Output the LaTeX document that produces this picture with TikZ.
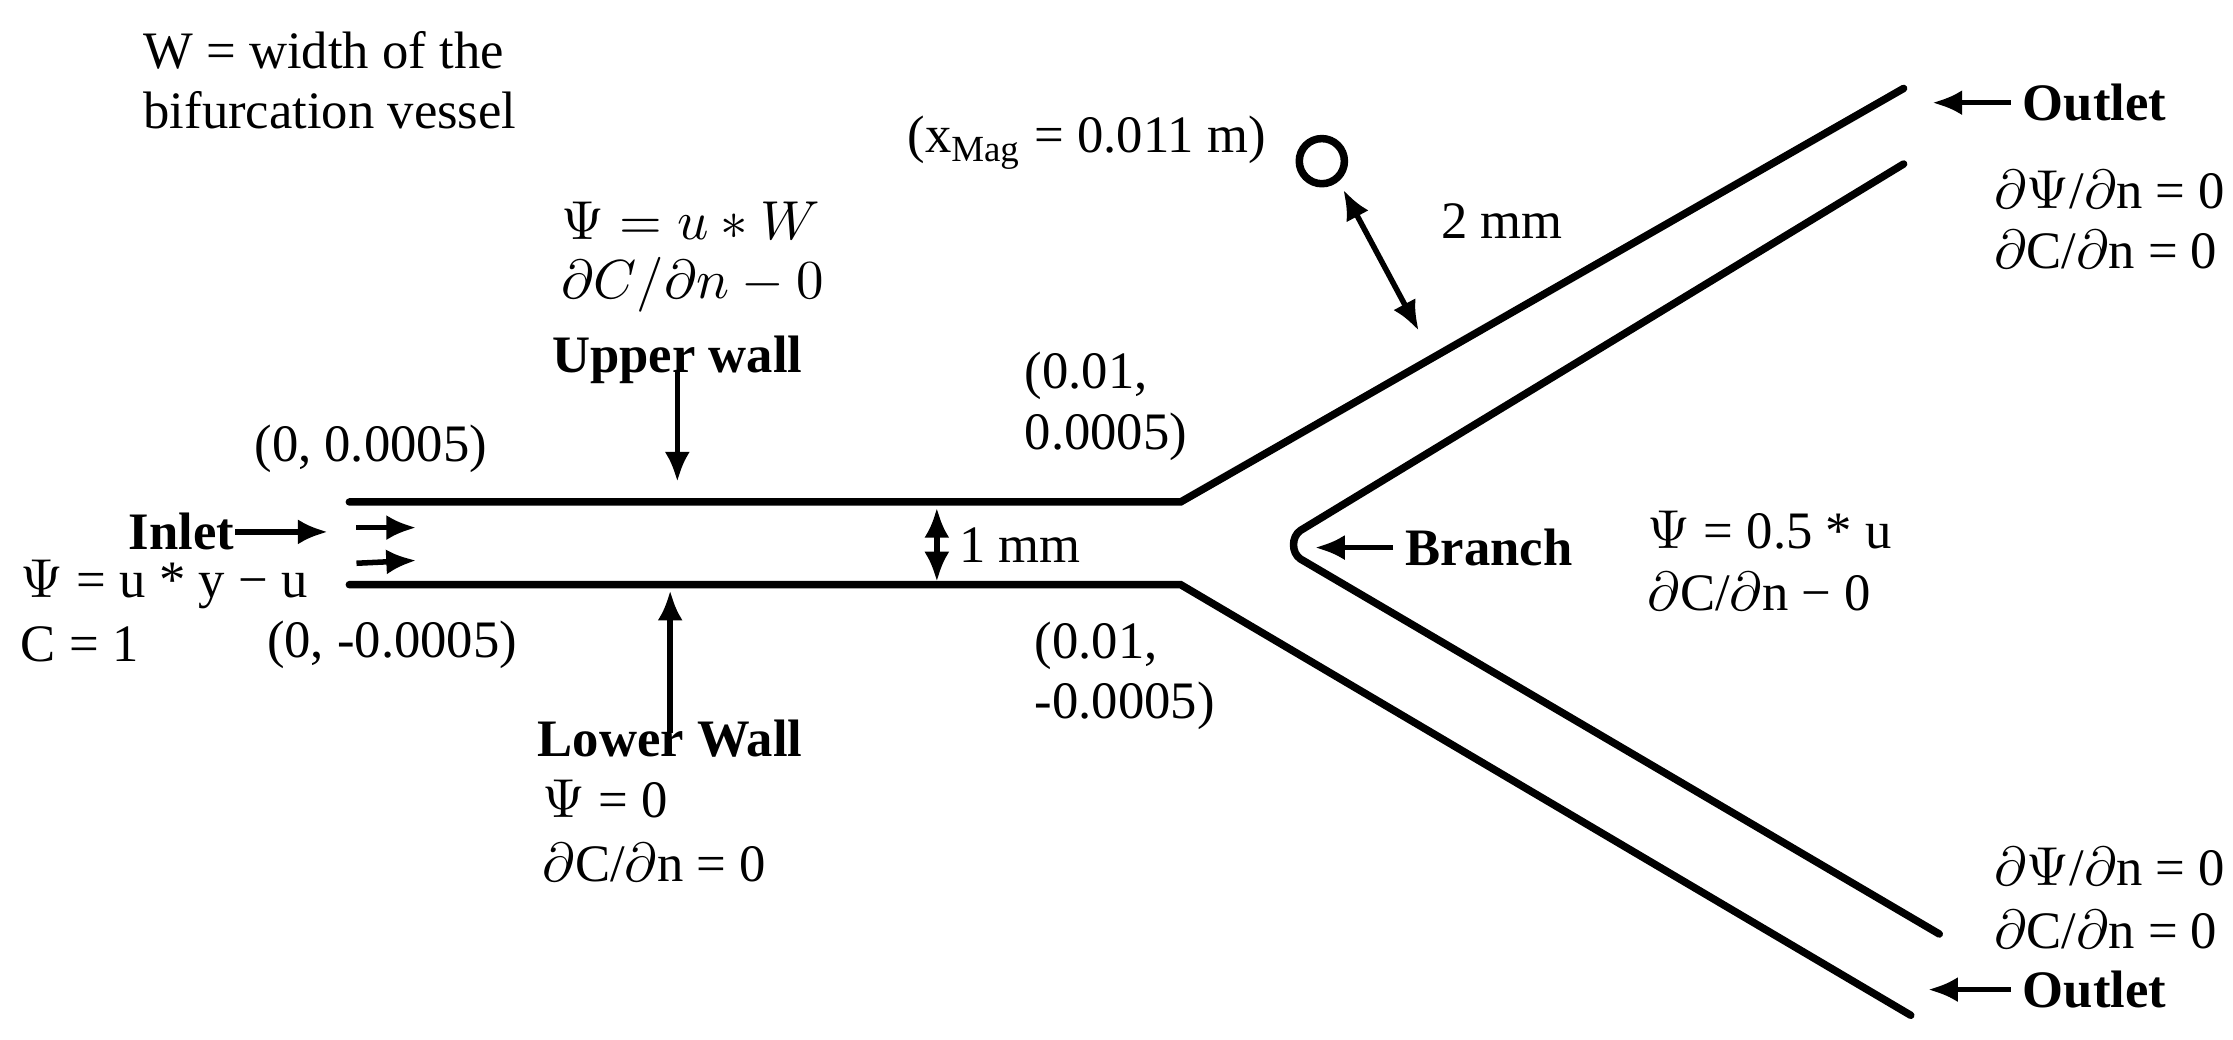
\documentclass[tikz,border=0pt]{standalone}
\usepackage{fontspec}
\setmainfont{Liberation Serif}
\usetikzlibrary{arrows.meta}
\begin{document}
\begin{tikzpicture}[x=0.01cm,y=-0.01cm,
  wall/.style={line width=1.5pt,line cap=round},
  arr/.style={line width=1.1pt,-{Latex[length=6pt,width=5pt]}},
  darr/.style={line width=1.1pt,{Latex[length=6pt,width=5pt]}-{Latex[length=6pt,width=5pt]}},
  txt/.style={inner sep=0pt,font=\fontsize{10.5}{12}\selectfont},
  bl/.style={txt,font=\fontsize{10.5}{12}\selectfont\bfseries}]
\useasboundingbox (0,0) rectangle (1566,729);
% walls
\coordinate (u0) at (245,352); \coordinate (u1) at (828,352); \coordinate (u2) at (1335,62);
\coordinate (l0) at (245,410); \coordinate (l1) at (828,410); \coordinate (l2) at (1340,712);
\coordinate (i1) at (1335,115); \coordinate (i2) at (1360,655);
\draw[wall] (u0)--(u1)--(u2);
\draw[wall] (l0)--(l1)--(l2);
\draw[wall] (i1)--(912,372) to[out=214,in=146] (912,392)--(i2);
% top-left text
\node[txt,anchor=west,align=left] (wnote) at (100,56) {W = width of the\\bifurcation vessel};
\node[txt] (xmag) at (762,100) {(x$_{\mathrm{Mag}}$ = 0.011 m)};
\node[draw,circle,line width=1.5pt,minimum size=9pt,inner sep=0pt] (mag) at (927,113) {};
\coordinate (m1) at (942,133); \coordinate (m2) at (995,232);
\draw[darr] (m1)--(m2);
\node[txt,anchor=west] (twomm) at (1010,155) {2 mm};
% upper wall
\node[txt,anchor=west] (uw1) at (393,155) {$\Psi = u * W$};
\node[txt,anchor=west] (uw2) at (393,200) {$\partial C/\partial n - 0$};
\node[bl] (uw) at (475,252) {Upper wall};
\coordinate (ua) at (475,338);
\draw[arr] (uw.south)++(0,-10)--(ua);
\node[txt] (c1) at (260,315) {(0, 0.0005)};
\node[txt,anchor=west,align=left] (c2) at (718,285) {(0.01,\\0.0005)};
% inlet
\node[bl,anchor=east] (inlet) at (165,373) {Inlet};
\coordinate (ia) at (230,373);
\draw[arr] (inlet.east)--(ia);
\coordinate (s1a) at (250,370); \coordinate (s1b) at (292,370);
\coordinate (s2a) at (250,395); \coordinate (s2b) at (292,393);
\draw[arr] (s1a)--(s1b);
\draw[arr] (s2a)--(s2b);
\node[txt,anchor=west] (in1) at (14,410) {$\Psi$ = u * y − u};
\node[txt,anchor=west] (in2) at (14,452) {C = 1};
\node[txt] (c3) at (275,452) {(0, -0.0005)};
% 1 mm
\coordinate (d1) at (657,356); \coordinate (d2) at (657,408);
\draw[darr] (d1)--(d2);
\node[txt,anchor=west] (onemm) at (672,382) {1 mm};
% lower wall
\node[bl] (lw) at (470,518) {Lower Wall};
\coordinate (la) at (470,414);
\draw[arr] (lw.north)++(0,10)--(la);
\node[txt,anchor=west] (lw1) at (380,560) {$\Psi$ = 0};
\node[txt,anchor=west] (lw2) at (380,605) {$\partial$C/$\partial$n = 0};
\node[txt,anchor=west,align=left] (c4) at (725,474) {(0.01,\\-0.0005)};
% branch
\node[bl,anchor=west] (br) at (985,384) {Branch};
\coordinate (ba) at (922,384);
\draw[arr] (br.west)++(-8,0)--(ba);
\node[txt,anchor=west] (b1) at (1155,372) {$\Psi$ = 0.5 * u};
\node[txt,anchor=west] (b2) at (1155,415) {$\partial$C/$\partial$n − 0};
% outlets
\node[bl,anchor=west] (o1) at (1418,72) {Outlet};
\coordinate (o1a) at (1355,72);
\draw[arr] (o1.west)++(-8,0)--(o1a);
\node[txt,anchor=west] (o1t1) at (1398,133) {$\partial\Psi$/$\partial$n = 0};
\node[txt,anchor=west] (o1t2) at (1398,175) {$\partial$C/$\partial$n = 0};
\node[txt,anchor=west] (o2t1) at (1398,608) {$\partial\Psi$/$\partial$n = 0};
\node[txt,anchor=west] (o2t2) at (1398,652) {$\partial$C/$\partial$n = 0};
\node[bl,anchor=west] (o2) at (1418,694) {Outlet};
\coordinate (o2a) at (1352,694);
\draw[arr] (o2.west)++(-8,0)--(o2a);
\end{tikzpicture}
\end{document}
